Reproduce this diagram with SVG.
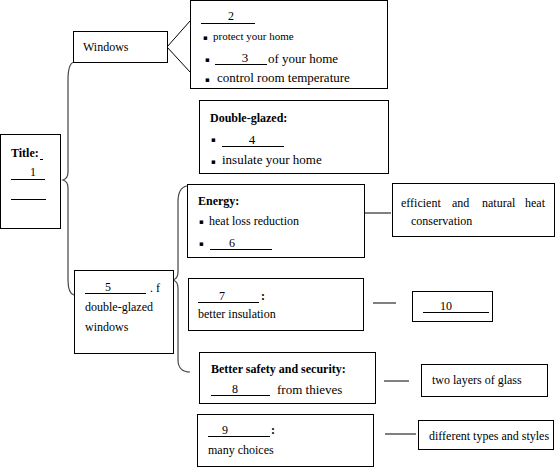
<svg xmlns="http://www.w3.org/2000/svg" width="558" height="467" viewBox="0 0 558 467">
<style>
.box{fill:#fff;stroke:#000;stroke-width:1}
.ln{stroke:#000;stroke-width:1;fill:none}
.br{stroke:#444;stroke-width:1.2;fill:none}
text{font-family:"Liberation Serif","Times New Roman",serif;fill:#000;font-size:12px}
.b{font-weight:bold}
.m{text-anchor:middle}
.s11{font-size:11px}
.s13{font-size:13px}
.bul{font-family:"DejaVu Sans",sans-serif;font-size:7px}
</style>
<rect width="558" height="467" fill="#fff"/>
<g id="connectors">
<path class="br" d="M74,62 C70,63 68,68 68,80 L68,172 C68,177 66,179 63,180 C66,181 68,183 68,188 L68,280 C68,290 70,294 74,295"/>
<path class="br" d="M187,186 C181,187 178,192 178,202 L178,272 C178,277 176,279 173,280 C176,281 178,283 178,288 L178,360 C178,368 183,372 190,372"/>
<path class="ln" stroke="#555" d="M167,47 L190,21 M167,47 L190,72"/>
<path class="ln" d="M364,213 H391 M373,303 H396 M384,381 H409 M385,434 H416"/>
</g>
<g id="title">
<rect class="box" x="0.5" y="134.5" width="60" height="94"/>
<text class="b" x="11" y="157">Title:</text>
<path class="ln" d="M40,159.5 H43"/>
<text class="m" x="33" y="176">1</text>
<path class="ln" d="M11,179.5 H45 M11,199.5 H46"/>
</g>
<g id="windows">
<rect class="box" x="73.5" y="31.5" width="94" height="31"/>
<text x="83" y="51">Windows</text>
</g>
<g id="box2">
<rect class="box" x="190.5" y="0.5" width="197" height="88"/>
<text class="m" x="231" y="20">2</text>
<path class="ln" d="M201,23.5 H255"/>
<text class="bul" x="203" y="40">▪</text>
<text class="s11" x="213" y="40">protect your home</text>
<text class="bul" x="205" y="62">▪</text>
<text class="m s13" x="245" y="62">3</text>
<path class="ln" d="M215,64.5 H267"/>
<text class="s13" x="268" y="63">of your home</text>
<text class="bul" x="205" y="82">▪</text>
<text class="s13" x="217" y="82">control room temperature</text>
</g>
<g id="doubleglazed">
<rect class="box" x="199.5" y="100.5" width="189" height="73"/>
<text class="b" x="210" y="122">Double-glazed:</text>
<text class="bul" x="211" y="142">▪</text>
<text class="m s13" x="252" y="144">4</text>
<path class="ln" d="M222,146.5 H284"/>
<text class="bul" x="211" y="164">▪</text>
<text class="s13" x="222" y="164">insulate your home</text>
</g>
<g id="energy">
<rect class="box" x="187.5" y="184.5" width="177" height="73"/>
<text class="b" x="198" y="205">Energy:</text>
<text class="bul" x="199" y="224">▪</text>
<text x="209" y="225">heat loss reduction</text>
<text class="bul" x="199" y="246">▪</text>
<text class="m" x="232" y="247">6</text>
<path class="ln" d="M210,249.5 H272"/>
</g>
<g id="efficient">
<rect class="box" x="392.5" y="183.5" width="162" height="53"/>
<text y="207"><tspan x="401">efficient</tspan><tspan x="452">and</tspan><tspan x="482">natural</tspan><tspan x="525">heat</tspan></text>
<text x="411" y="225">conservation</text>
</g>
<g id="box5">
<rect class="box" x="74.5" y="270.5" width="99" height="83"/>
<text class="m" x="108" y="291">5</text>
<path class="ln" d="M85,293.5 H146"/>
<text x="150" y="292">. f</text>
<text x="85" y="311">double-glazed</text>
<text x="85" y="331">windows</text>
</g>
<g id="box7">
<rect class="box" x="188.5" y="278.5" width="175" height="52"/>
<text class="m" x="222" y="300">7</text>
<path class="ln" d="M198,302.5 H259"/>
<text class="b" x="261" y="300">:</text>
<text x="198" y="318">better insulation</text>
</g>
<g id="box10">
<rect class="box" x="412.5" y="291.5" width="80" height="30"/>
<text class="m" x="446" y="310">10</text>
<path class="ln" d="M423,312.5 H489"/>
</g>
<g id="safety">
<rect class="box" x="199.5" y="352.5" width="176" height="51"/>
<text class="b" x="211" y="373">Better safety and security:</text>
<text class="m" x="235" y="393">8</text>
<path class="ln" d="M211,395.5 H270"/>
<text class="s13" x="277" y="394">from thieves</text>
</g>
<g id="glass">
<rect class="box" x="421.5" y="364.5" width="126" height="32"/>
<text x="432" y="384">two layers of glass</text>
</g>
<g id="box9">
<rect class="box" x="197.5" y="414.5" width="176" height="52"/>
<text class="m" x="225" y="434">9</text>
<path class="ln" d="M208,436.5 H270"/>
<text class="b" x="271" y="434">:</text>
<text x="208" y="454">many choices</text>
</g>
<g id="styles">
<rect class="box" x="418.5" y="420.5" width="135" height="29"/>
<text x="429" y="440">different types and styles</text>
</g>
</svg>
